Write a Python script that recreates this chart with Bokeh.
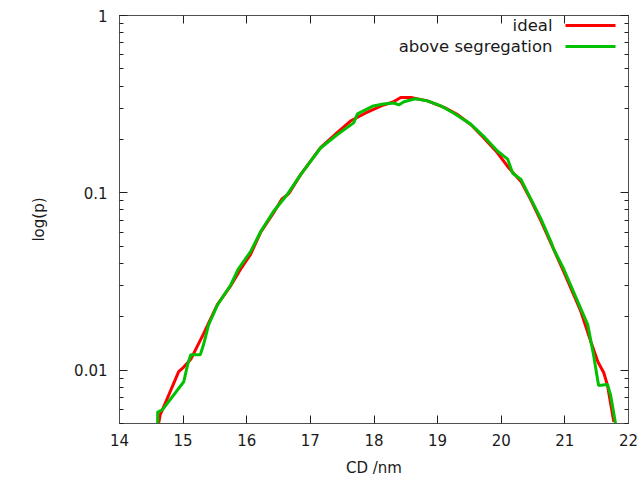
from bokeh.plotting import figure
from bokeh.models import (Range1d, FixedTicker, LinearAxis, LogAxis, Label,
                          BoxAnnotation, CustomJSTickFormatter)
from bokeh.embed import file_html
from bokeh.resources import INLINE

# ---- data ----
ideal_x = [14.61, 14.64, 14.75, 14.93, 15.01, 15.12, 15.32, 15.54, 15.75, 15.90,
           16.06, 16.22, 16.42, 16.55, 16.66, 16.85, 17.16, 17.43, 17.63, 17.87,
           18.15, 18.30, 18.42, 18.58, 18.84, 19.13, 19.30, 19.52, 19.72, 19.94,
           20.12, 20.31, 20.46, 20.62, 20.78, 20.98, 21.25, 21.41, 21.52, 21.61,
           21.67, 21.77]
ideal_y = [0.0049, 0.0056, 0.0069, 0.0098, 0.0104, 0.0115, 0.016, 0.0235, 0.030, 0.037,
           0.045, 0.060, 0.077, 0.092, 0.099, 0.127, 0.180, 0.220, 0.254, 0.282,
           0.313, 0.325, 0.345, 0.345, 0.330, 0.300, 0.278, 0.243, 0.205, 0.168,
           0.138, 0.116, 0.092, 0.070, 0.052, 0.036, 0.0215, 0.0144, 0.0111, 0.0097,
           0.0082, 0.0051]

seg_x = [14.60, 14.60, 14.68, 15.01, 15.07, 15.12, 15.27, 15.32, 15.40, 15.54,
         15.75, 15.87, 16.06, 16.22, 16.42, 16.64, 16.85, 17.16, 17.43, 17.68,
         17.74, 17.99, 18.15, 18.31, 18.39, 18.47, 18.65, 18.84, 19.05, 19.25,
         19.52, 19.72, 19.94, 20.10, 20.18, 20.31, 20.46, 20.62, 20.78, 20.82,
         20.98, 21.25, 21.36, 21.45, 21.53, 21.67, 21.72, 21.80]
seg_y = [0.0049, 0.0058, 0.0060, 0.0086, 0.0107, 0.0122, 0.0122, 0.0139, 0.0180, 0.0233,
         0.0303, 0.0373, 0.0466, 0.0605, 0.0785, 0.0982, 0.127, 0.179, 0.214, 0.248,
         0.279, 0.309, 0.317, 0.321, 0.313, 0.326, 0.339, 0.330, 0.309, 0.282,
         0.244, 0.209, 0.172, 0.155, 0.129, 0.119, 0.093, 0.0717, 0.0531, 0.0485,
         0.0373, 0.0222, 0.0180, 0.0122, 0.0082, 0.0083, 0.0072, 0.0049]

x_ticks = [14, 15, 16, 17, 18, 19, 20, 21, 22]
y_ticks = [0.01, 0.1, 1]
y_minor = [0.005, 0.006, 0.007, 0.008, 0.009,
           0.02, 0.03, 0.04, 0.05, 0.06, 0.07, 0.08, 0.09,
           0.2, 0.3, 0.4, 0.5, 0.6, 0.7, 0.8, 0.9]

RED = "#ff0000"
GREEN = "#00c000"
FONT = "DejaVu Sans"
TXT = "#1a1a1a"
AX = "#505050"

p = figure(width=643, height=479, y_axis_type="log",
           x_range=Range1d(14, 22), y_range=Range1d(0.005, 1),
           output_backend="svg", toolbar_location=None,
           min_border_left=119, min_border_right=15, min_border_top=15,
           min_border_bottom=56)
p.background_fill_color = "white"
p.border_fill_color = "white"
p.outline_line_color = AX
p.grid.visible = False

fmt = CustomJSTickFormatter(code="return String(parseFloat(tick.toPrecision(3)));")
blank = CustomJSTickFormatter(code="return '';")

def style(ax):
    ax.axis_line_color = AX
    ax.major_tick_line_color = "#202020"
    ax.minor_tick_line_color = "#202020"
    ax.major_tick_in = 8
    ax.major_tick_out = 0
    ax.minor_tick_in = 4
    ax.minor_tick_out = 0
    ax.major_label_text_font = FONT
    ax.major_label_text_color = TXT
    ax.major_label_text_font_size = "15px"
    ax.axis_label_text_font = FONT
    ax.axis_label_text_font_style = "normal"
    ax.axis_label_text_color = TXT
    ax.axis_label_text_font_size = "15px"

xa = p.xaxis[0]
xa.ticker = FixedTicker(ticks=x_ticks)
xa.axis_label = "CD /nm"
xa.major_label_standoff = 10
xa.axis_label_standoff = 10
style(xa)

ya = p.yaxis[0]
ya.ticker = FixedTicker(ticks=y_ticks, minor_ticks=y_minor)
ya.formatter = fmt
ya.axis_label = "log(p)"
ya.major_label_standoff = 12
ya.axis_label_standoff = 23
style(ya)

top = LinearAxis(ticker=FixedTicker(ticks=x_ticks), formatter=blank, major_label_standoff=0)
style(top)
p.add_layout(top, "above")
right = LogAxis(ticker=FixedTicker(ticks=y_ticks, minor_ticks=y_minor), formatter=blank,
                major_label_standoff=0)
style(right)
p.add_layout(right, "right")

p.line(ideal_x, ideal_y, line_color=RED, line_width=3)
p.line(seg_x, seg_y, line_color=GREEN, line_width=3)

# legend (gnuplot style: text then sample)
for i, (txt, col) in enumerate([("ideal", RED), ("above segregation", GREEN)]):
    p.add_layout(Label(x=433, y=398 - 21 * i, x_units="screen", y_units="screen",
                       text=txt, text_align="right", text_baseline="middle",
                       text_font=FONT, text_font_size="16.5px", text_color=TXT))
    p.add_layout(BoxAnnotation(left=446, right=496, top=399.5 - 21 * i, bottom=396.5 - 21 * i,
                               left_units="screen", right_units="screen",
                               top_units="screen", bottom_units="screen",
                               fill_color=col, fill_alpha=1, line_alpha=0))

open("out.html", "w").write(file_html(p, INLINE))
